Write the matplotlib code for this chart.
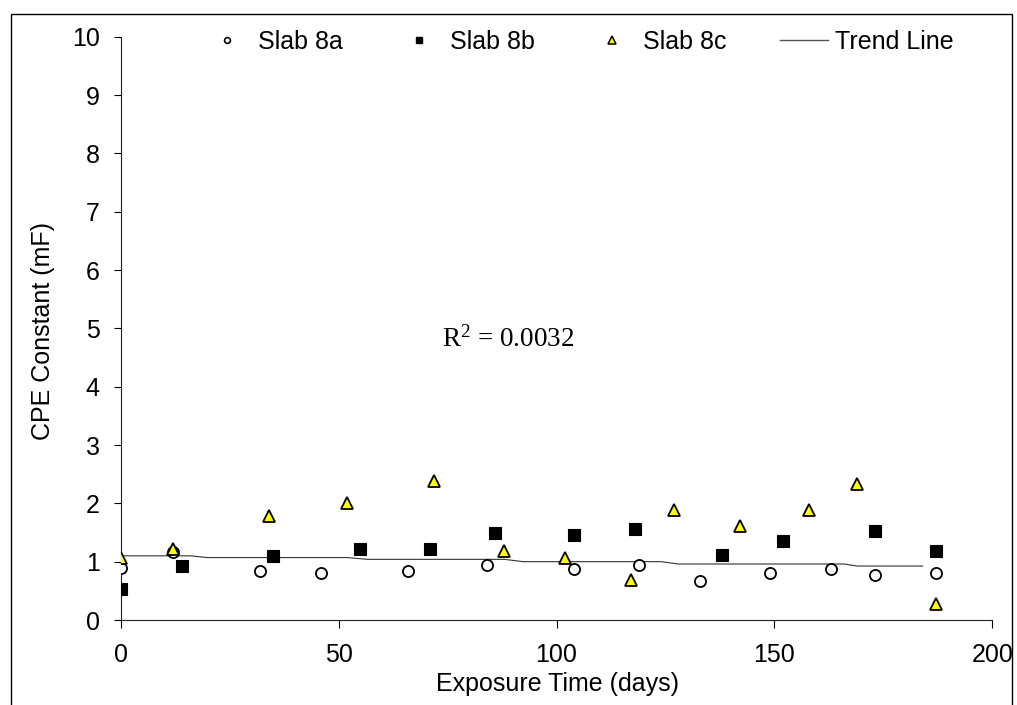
import matplotlib
matplotlib.use("Agg")
import matplotlib.pyplot as plt
from matplotlib.lines import Line2D
from matplotlib.patches import Rectangle

# Measured CPE constants (mF) versus exposure time (days)
days_8a = [0, 12, 32, 46, 66, 84, 104, 119, 133, 149, 163, 173, 187]
cpe_8a = [0.90, 1.16, 0.84, 0.81, 0.84, 0.95, 0.88, 0.95, 0.67, 0.81, 0.88, 0.77, 0.81]

days_8b = [0, 14, 35, 55, 71, 86, 104, 118, 138, 152, 173, 187]
cpe_8b = [0.53, 0.92, 1.09, 1.22, 1.22, 1.49, 1.46, 1.56, 1.12, 1.36, 1.53, 1.19]

days_8c = [0, 12, 34, 52, 72, 88, 102, 117, 127, 142, 158, 169, 187]
cpe_8c = [1.06, 1.22, 1.78, 2.01, 2.39, 1.19, 1.06, 0.68, 1.88, 1.61, 1.88, 2.33, 0.27]

trend_days = [0, 16, 20, 52, 56.6, 88, 92.4, 124, 128, 166, 169, 184]
trend_cpe = [1.10, 1.10, 1.07, 1.07, 1.04, 1.04, 1.00, 1.00, 0.96, 0.96, 0.925, 0.925]

x_ticks = [0, 50, 100, 150, 200]
y_ticks = list(range(0, 11))
r2_label = r"R$^{2}$ = 0.0032"

sans = "Liberation Sans"
serif = "Liberation Serif"
plt.rcParams["mathtext.fontset"] = "custom"
plt.rcParams["mathtext.rm"] = serif
plt.rcParams["mathtext.it"] = serif + ":italic"

W, H = 1017, 705
fig = plt.figure(figsize=(W / 100, H / 100), dpi=100)
fig.patch.set_facecolor("white")

ax = fig.add_axes([120.7 / W, 1 - 620 / H, (992.3 - 120.7) / W, (620 - 36.7) / H])

ax.plot(trend_days, trend_cpe, color="#333333", lw=0.8, zorder=2)
ax.plot(days_8a, cpe_8a, ls="none", marker="o", ms=8, mfc="white", mec="black",
        mew=1.3, zorder=3)
ax.plot(days_8b, cpe_8b, ls="none", marker="s", ms=8.2, mfc="black", mec="black",
        mew=0.8, zorder=3)
ax.plot(days_8c, cpe_8c, ls="none", marker="^", ms=9.3, mfc="#ffff00", mec="black",
        mew=1.3, zorder=4)

ax.set_xlim(0, 200)
ax.set_ylim(0, 10)
ax.set_xticks(x_ticks)
ax.set_yticks(y_ticks)
ax.set_xticklabels([str(t) for t in x_ticks], fontsize=18, family=sans)
ax.set_yticklabels([str(t) for t in y_ticks], fontsize=18, family=sans)
ax.tick_params(axis="x", direction="out", length=5.8, width=0.8, pad=11, colors="black")
ax.tick_params(axis="y", direction="out", length=5, width=0.8, pad=10, colors="black")
for side in ("top", "right"):
    ax.spines[side].set_visible(False)
for side in ("left", "bottom"):
    ax.spines[side].set_linewidth(0.8)
    ax.spines[side].set_color("#222222")
ax.patch.set_alpha(0)

ax.text(73.7, 4.69, r2_label, fontsize=19.5, family=serif, ha="left", va="baseline")

# Axis titles
fig.text(43 / W, 1 - 331 / H, "CPE Constant (mF)", rotation=90, fontsize=18,
         family=sans, ha="center", va="center")
fig.text(558 / W, 1 - 691 / H, "Exposure Time (days)", fontsize=18, family=sans,
         ha="center", va="baseline")

# Legend across the top
handles = [
    Line2D([], [], ls="none", marker="o", ms=4.2, mfc="white", mec="black", mew=1.2),
    Line2D([], [], ls="none", marker="s", ms=4.8, mfc="black", mec="black"),
    Line2D([], [], ls="none", marker="^", ms=5.2, mfc="#ffff00", mec="black", mew=1.1),
    Line2D([], [], color="#555555", lw=1.0),
]
labels = ["Slab 8a", "Slab 8b", "Slab 8c", "Trend Line"]
fig.legend(handles, labels, loc="center", bbox_to_anchor=(578 / W, 1 - 42 / H),
           ncol=4, frameon=False, prop={"family": sans, "size": 18},
           handlelength=1.92, handletextpad=0.28, columnspacing=2.12,
           borderpad=0, borderaxespad=0)

# Outer frame around the figure
fig.add_artist(Rectangle((11 / W, -0.05), (1012 - 11) / W, 1.05 - 14 / H,
                         transform=fig.transFigure, fill=False, ec="black", lw=1.0))

fig.savefig("out.png", dpi=100, facecolor="white")
